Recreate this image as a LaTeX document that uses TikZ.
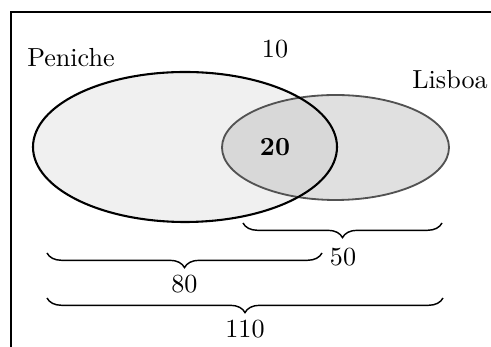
\documentclass[tikz,border=0pt]{standalone}
\usetikzlibrary{decorations.pathreplacing}
\begin{document}
\begin{tikzpicture}[x=0.383pt,y=-0.383pt,
  lab/.style={anchor=base,inner sep=0pt,font=\fontsize{10}{12}\selectfont},
  bracestyle/.style={decorate,line width=0.55pt,decoration={brace,mirror,amplitude=5.6pt}}]
\useasboundingbox (0,0) rectangle (491,347);
\clip (0,0) rectangle (491,347);
\draw[line width=0.6pt] (11,12) rectangle (500,360);
\fill[black!6] (185,147) ellipse [x radius=152,y radius=75];
\fill[black!23,fill opacity=0.53] (335.5,147.5) ellipse [x radius=113.5,y radius=52.5];
\draw[black!68,line width=0.7pt] (335.5,147.5) ellipse [x radius=113.5,y radius=52.5];
\draw[line width=0.8pt] (185,147) ellipse [x radius=152,y radius=75];
\node[lab] (pen) at (71,67) {Peniche};
\node[lab] (ten) at (275,58) {10};
\node[lab] (lis) at (450,89) {Lisboa};
\node[lab] (tw) at (275,156) {\textbf{20}};
\coordinate (a1) at (243,223); \coordinate (a2) at (442,223);
\coordinate (b1) at (47,253); \coordinate (b2) at (322,253);
\coordinate (c1) at (47,298); \coordinate (c2) at (443,298);
\draw[bracestyle] (a1) -- (a2);
\draw[bracestyle] (b1) -- (b2);
\draw[bracestyle] (c1) -- (c2);
\node[lab] (fifty) at (343,266) {50};
\node[lab] (eighty) at (184.5,293) {80};
\node[lab] (hundred) at (245,338) {110};
\end{tikzpicture}
\end{document}
